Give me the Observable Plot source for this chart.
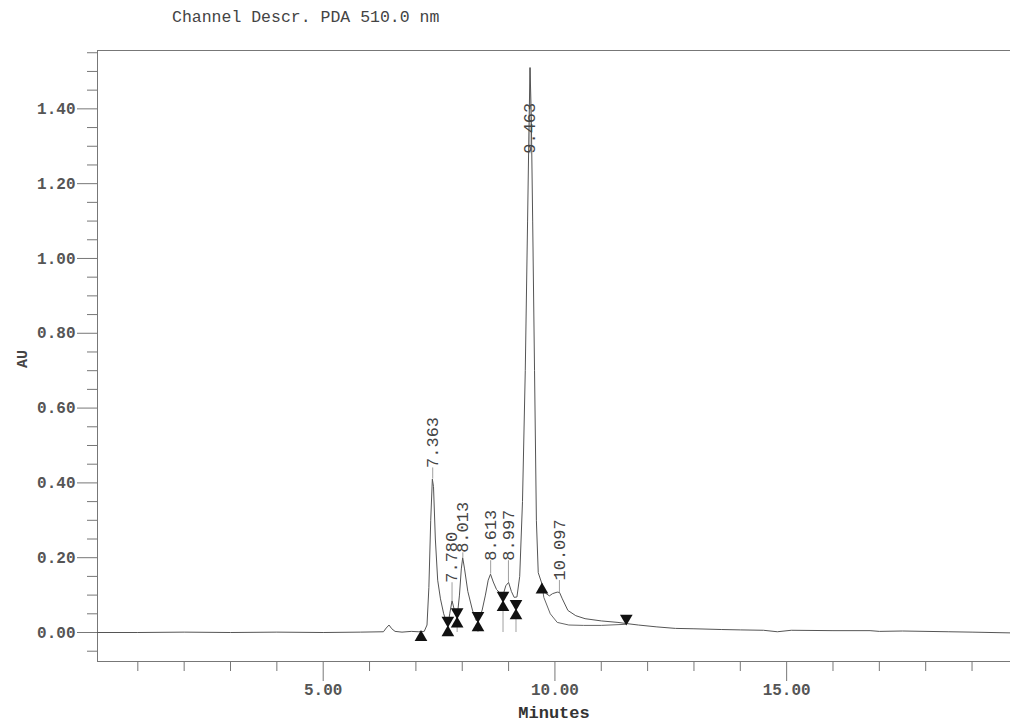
<!DOCTYPE html>
<html><head><meta charset="utf-8">
<script src="https://cdn.jsdelivr.net/npm/d3@7"></script>
<script src="https://cdn.jsdelivr.net/npm/@observablehq/plot@0.6"></script>
<style>
body{margin:0;background:#fff;}
#title{height:36px;position:relative;font-family:"Liberation Mono",monospace;font-size:16.5px;color:#444;}
#title span{position:absolute;left:172px;top:8px;white-space:pre;}
</style></head><body>
<div id="title"><span>Channel Descr. PDA 510.0 nm</span></div>
<div id="chart"></div>
<script>
// axis settings
const xDomain = [0.13, 19.83];
const yDomain = [-0.0775, 1.556];
const xMajorTicks = [5, 10, 15];
const xMinorTicks = [1,2,3,4,6,7,8,9,11,12,13,14,16,17,18,19];
const yMajorTicks = [0, 0.2, 0.4, 0.6, 0.8, 1.0, 1.2, 1.4];
const yMinorTicks = [-0.05,0.05,0.10,0.15,0.25,0.30,0.35,0.45,0.50,0.55,0.65,0.70,0.75,0.85,0.90,0.95,1.05,1.10,1.15,1.25,1.30,1.35,1.45,1.50,1.55];

// chromatogram signal (minutes, AU)
const traceTime = [0.13,1.0,2.0,3.0,4.0,5.0,5.8,6.3,6.36,6.42,6.48,6.55,6.7,6.9,7.05,7.18,7.24,7.28,7.32,7.355,7.38,7.42,7.47,7.53,7.60,7.69,7.73,7.78,7.83,7.89,7.94,7.98,8.01,8.05,8.12,8.22,8.30,8.36,8.43,8.50,8.56,8.61,8.67,8.74,8.82,8.88,8.94,9.00,9.06,9.12,9.18,9.24,9.30,9.36,9.41,9.44,9.463,9.49,9.52,9.56,9.60,9.64,9.72,9.80,9.88,9.95,10.05,10.10,10.16,10.28,10.45,10.65,11.0,11.36,11.54,11.8,12.2,12.6,13.0,13.6,14.0,14.5,14.8,15.1,16.0,16.8,17.0,17.5,18.5,19.0,19.83];
const traceAU = [0.000,0.000,0.001,0.000,0.001,0.000,0.001,0.002,0.012,0.020,0.010,0.003,0.001,0.003,0.002,0.003,0.020,0.120,0.300,0.410,0.390,0.250,0.140,0.090,0.050,0.018,0.050,0.085,0.060,0.040,0.100,0.170,0.200,0.170,0.110,0.060,0.032,0.035,0.060,0.100,0.140,0.156,0.135,0.115,0.105,0.100,0.125,0.134,0.110,0.094,0.095,0.150,0.350,0.700,1.100,1.350,1.510,1.380,1.100,0.700,0.300,0.160,0.130,0.105,0.098,0.104,0.108,0.107,0.090,0.059,0.045,0.037,0.031,0.027,0.024,0.020,0.015,0.011,0.010,0.008,0.007,0.006,0.002,0.006,0.005,0.005,0.003,0.004,0.002,0.001,-0.001];

// skimmed baseline under the 10.097 peak
const skimTime = [9.72,9.76,9.90,10.05,10.30,10.62,11.0,11.54];
const skimAU = [0.130,0.094,0.050,0.027,0.020,0.019,0.019,0.022];

// integrated peaks
const peakRT = [7.363, 7.780, 8.013, 8.613, 8.997, 9.463, 10.097];
const peakLabel = ["7.363","7.780","8.013","8.613","8.997","9.463","10.097"];
const peakApexAU = [0.410, 0.085, 0.200, 0.156, 0.134, 1.510, 0.107];
const peakLabelAU = [0.440, 0.133, 0.213, 0.192, 0.192, 1.280, 0.139];

// peak start (▲) and end (▼) markers
const startTime = [7.11, 7.69, 7.89, 8.34, 8.88, 9.16, 9.72];
const startAU = [0.003, 0.016, 0.039, 0.029, 0.083, 0.061, 0.130];
const endTime = [7.69, 7.89, 8.34, 8.88, 9.16, 11.54];
const endAU = [0.016, 0.039, 0.029, 0.083, 0.061, 0.022];

const trace = traceTime.map((t, i) => ({t, v: traceAU[i]}));
const skim = skimTime.map((t, i) => ({t, v: skimAU[i]}));
const peaks = peakRT.map((rt, i) => ({rt, label: peakLabel[i], apex: peakApexAU[i], lab: peakLabelAU[i]}));
const starts = startTime.map((t, i) => ({t, v: startAU[i]}));
const ends = endTime.map((t, i) => ({t, v: endAU[i]}));
const drops = ends.filter((d, i) => i < ends.length - 1);

const axisColor = "#777";
const plot = Plot.plot({
  width: 1010, height: 687,
  marginTop: 14, marginBottom: 62, marginLeft: 97, marginRight: 0,
  x: {domain: xDomain},
  y: {domain: yDomain},
  style: {fontFamily: "'Liberation Mono', monospace", background: "white", overflow: "visible"},
  marks: [
    Plot.ruleY([yDomain[1], yDomain[0]], {stroke: axisColor}),
    Plot.ruleX([xDomain[0]], {stroke: axisColor}),
    Plot.axisY({ticks: yMinorTicks, tickSize: 10, tickFormat: () => "", stroke: axisColor, label: null}),
    Plot.axisY({ticks: yMajorTicks, tickSize: 20, tickPadding: 2, tickFormat: d3.format(".2f"), stroke: axisColor, fill: "#555", fontSize: 16, fontWeight: "bold", label: null}),
    Plot.axisX({ticks: xMinorTicks, tickSize: 10, tickFormat: () => "", stroke: axisColor, label: null}),
    Plot.axisX({ticks: xMajorTicks, tickSize: 20, tickPadding: 2, tickFormat: d3.format(".2f"), stroke: axisColor, fill: "#555", fontSize: 16, fontWeight: "bold", label: null}),
    Plot.text(["AU"], {frameAnchor: "left", dx: -75, dy: 12, rotate: -90, fontWeight: "bold", fontSize: 15, fill: "#444"}),
    Plot.text(["Minutes"], {frameAnchor: "bottom", dy: 51, lineAnchor: "middle", fontWeight: "bold", fontSize: 17, fill: "#333"}),
    Plot.ruleX(drops, {x: "t", y1: 0, y2: "v", stroke: "#888", strokeWidth: 0.8}),
    Plot.ruleX(peaks, {x: "rt", y1: "apex", y2: "lab", stroke: "#888", strokeWidth: 0.8}),
    Plot.line(skim, {x: "t", y: "v", stroke: "#666", strokeWidth: 1}),
    Plot.line(trace, {x: "t", y: "v", stroke: "#555", strokeWidth: 1}),
    Plot.dot(starts, {x: "t", y: "v", symbol: "triangle", r: 4.7, fill: "#111", dy: 6}),
    Plot.dot(ends, {x: "t", y: "v", symbol: "triangle", r: 4.7, fill: "#111", rotate: 180, dy: -6}),
    Plot.text(peaks, {x: "rt", y: "lab", text: "label", rotate: -90, textAnchor: "start", fontSize: 17, fill: "#444"})
  ]
});
document.getElementById("chart").appendChild(plot);
</script>
</body></html>
